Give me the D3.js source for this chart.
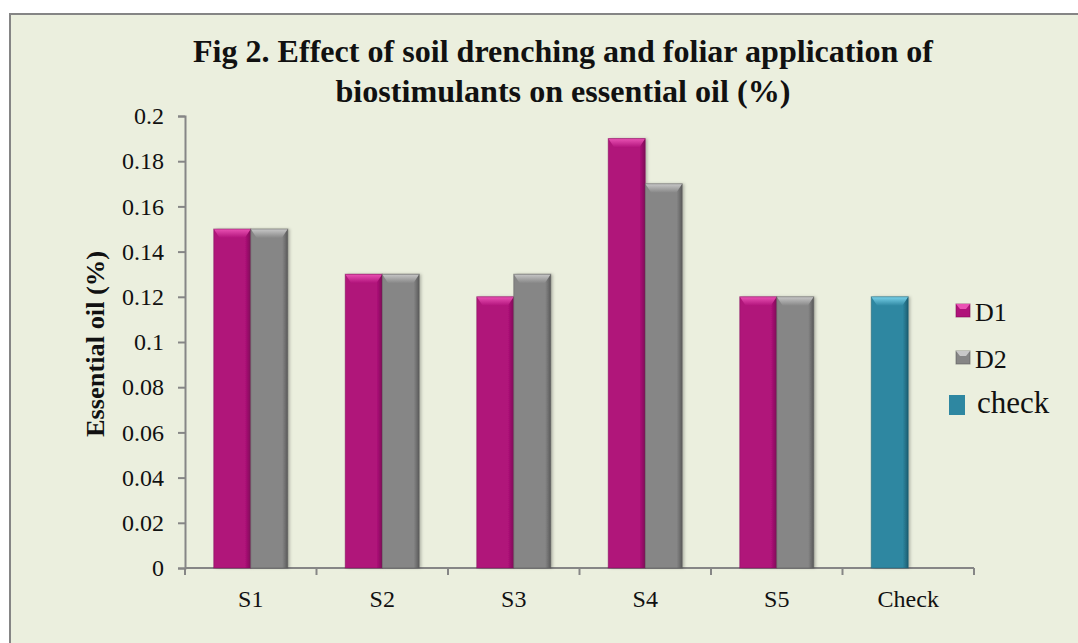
<!DOCTYPE html>
<html>
<head>
<meta charset="utf-8">
<script src="https://cdn.jsdelivr.net/npm/d3@7"></script>
<style>
  body { margin: 0; background: #fff; }
  text { font-family: "Liberation Serif", "Times New Roman", serif; fill: #111; }
</style>
</head>
<body>
<div id="chart"></div>
<script>
// data
const categories = ["S1", "S2", "S3", "S4", "S5", "Check"];
const d1Values = [0.15, 0.13, 0.12, 0.19, 0.12, null];
const d2Values = [0.15, 0.13, 0.13, 0.17, 0.12, null];
const checkValues = [null, null, null, null, null, 0.12];
const yTicks = [0, 0.02, 0.04, 0.06, 0.08, 0.1, 0.12, 0.14, 0.16, 0.18, 0.2];
const titleLines = ["Fig 2. Effect of soil drenching and foliar application of",
                    "biostimulants on essential oil (%)"];

const width = 1078, height = 643;
const margin = { top: 116, right: 104, bottom: 75, left: 185 };

const svg = d3.select("#chart").append("svg")
  .attr("width", width)
  .attr("height", height);

// frame
svg.append("rect")
  .attr("x", 10).attr("y", 14)
  .attr("width", width + 20).attr("height", height)
  .attr("fill", "#ebefde")
  .attr("stroke", "#858585")
  .attr("stroke-width", 2);

// bevel gradients
const defs = svg.append("defs");
const palettes = {
  D1: { main: "#b0127a", light: "#ea52b4", dark: "#7e0b57" },
  D2: { main: "#868686", light: "#c8c8c8", dark: "#5a5a5a" },
  check: { main: "#2e87a1", light: "#7ad2ea", dark: "#1d5d70" }
};
Object.entries(palettes).forEach(([k, p]) => {
  const g = defs.append("linearGradient").attr("id", "top-" + k)
    .attr("x1", 0).attr("y1", 0).attr("x2", 0).attr("y2", 1);
  g.append("stop").attr("offset", "0%").attr("stop-color", p.light);
  g.append("stop").attr("offset", "100%").attr("stop-color", p.main);
  const s = defs.append("linearGradient").attr("id", "side-" + k)
    .attr("x1", 0).attr("y1", 0).attr("x2", 1).attr("y2", 0);
  s.append("stop").attr("offset", "0%").attr("stop-color", p.main);
  s.append("stop").attr("offset", "85%").attr("stop-color", p.main);
  s.append("stop").attr("offset", "100%").attr("stop-color", p.dark);
});
const shadow = defs.append("filter").attr("id", "shadow")
  .attr("x", "-20%").attr("y", "-5%").attr("width", "150%").attr("height", "110%");
shadow.append("feDropShadow").attr("dx", 2).attr("dy", 0).attr("stdDeviation", 1.5)
  .attr("flood-color", "#000").attr("flood-opacity", 0.25);

const x0 = d3.scaleBand()
  .domain(categories)
  .range([margin.left, width - margin.right])
  .padding(0);

const x1 = d3.scaleBand()
  .domain(["D1", "D2"])
  .range([0, x0.bandwidth()])
  .paddingInner(0)
  .paddingOuter(0.777);

const y = d3.scaleLinear()
  .domain([0, 0.2])
  .range([height - margin.bottom, margin.top]);

// title
svg.append("g").selectAll("text")
  .data(titleLines)
  .enter()
  .append("text")
  .attr("x", 563)
  .attr("y", (d, i) => 62 + i * 40)
  .attr("text-anchor", "middle")
  .style("font-size", "32px")
  .style("font-weight", "bold")
  .attr("textLength", (d, i) => i === 0 ? 740 : 455)
  .attr("lengthAdjust", "spacingAndGlyphs")
  .text(d => d);

// y axis
const yAxis = svg.append("g")
  .attr("transform", `translate(${margin.left},0)`)
  .call(d3.axisLeft(y).tickValues(yTicks).tickSize(7).tickPadding(14)
    .tickFormat(d => String(+d.toFixed(2))));
yAxis.selectAll("line, path").attr("stroke", "#868686").attr("stroke-width", 2);
yAxis.selectAll("text")
  .style("font-size", "24px")
  .style("font-family", "'Liberation Serif', serif")
  .attr("fill", "#111");

// x axis
const xAxis = svg.append("g")
  .attr("transform", `translate(0,${y(0)})`)
  .call(d3.axisBottom(x0).tickSize(0).tickPadding(22));
xAxis.select("path").attr("stroke", "#868686").attr("stroke-width", 2).attr("d",
  `M${margin.left},0H${width - margin.right}`);
xAxis.selectAll("text")
  .style("font-size", "24px")
  .style("font-family", "'Liberation Serif', serif")
  .attr("fill", "#111");
xAxis.selectAll(".sep")
  .data(d3.range(categories.length + 1))
  .enter()
  .append("line")
  .attr("class", "sep")
  .attr("x1", i => margin.left + i * x0.step())
  .attr("x2", i => margin.left + i * x0.step())
  .attr("y1", 0).attr("y2", 7)
  .attr("stroke", "#868686").attr("stroke-width", 2);

// y label
svg.append("text")
  .attr("transform", `translate(104,${(margin.top + y(0)) / 2 + 2}) rotate(-90)`)
  .attr("text-anchor", "middle")
  .style("font-size", "25px")
  .style("font-weight", "bold")
  .attr("textLength", 186)
  .attr("lengthAdjust", "spacingAndGlyphs")
  .text("Essential oil (%)");

// bars
function drawBar(g, xPos, w, v, key) {
  const top = y(v), bottom = y(0), h = bottom - top;
  const p = palettes[key];
  const bev = Math.min(9, h);
  g.append("rect")
    .attr("x", xPos).attr("y", top)
    .attr("width", w).attr("height", h)
    .attr("fill", `url(#side-${key})`)
    .attr("filter", "url(#shadow)");
  g.append("polygon")
    .attr("points", [[xPos, top], [xPos + w, top], [xPos + w - 6, top + bev], [xPos + 6, top + bev]].join(" "))
    .attr("fill", `url(#top-${key})`);
  g.append("rect")
    .attr("x", xPos).attr("y", top)
    .attr("width", w).attr("height", h)
    .attr("fill", "none")
    .attr("stroke", p.dark).attr("stroke-opacity", 0.5).attr("stroke-width", 1);
}

const bars = svg.append("g");
categories.forEach((c, i) => {
  const g = bars.append("g");
  if (d1Values[i] != null) drawBar(g, x0(c) + x1("D1"), x1.bandwidth(), d1Values[i], "D1");
  if (d2Values[i] != null) drawBar(g, x0(c) + x1("D2"), x1.bandwidth(), d2Values[i], "D2");
  if (checkValues[i] != null) drawBar(g, x0(c) + x1("D1"), x1.bandwidth(), checkValues[i], "check");
});

// legend
const legend = svg.append("g");
[["D1", 304, "D1"], ["D2", 351, "D2"]].forEach(([label, ly, key]) => {
  const p = palettes[key];
  legend.append("rect")
    .attr("x", 956).attr("y", ly).attr("width", 14).attr("height", 13)
    .attr("fill", p.main).attr("stroke", p.dark).attr("stroke-opacity", 0.6);
  legend.append("polygon")
    .attr("points", [[956, ly], [970, ly], [966, ly + 5], [960, ly + 5]].join(" "))
    .attr("fill", p.light);
  legend.append("text")
    .attr("x", 975).attr("y", ly + 17)
    .style("font-size", "26px")
    .text(label);
});
legend.append("rect")
  .attr("x", 949).attr("y", 395).attr("width", 16).attr("height", 20)
  .attr("fill", palettes.check.main);
legend.append("text")
  .attr("x", 977).attr("y", 413)
  .style("font-size", "31px")
  .text("check");
</script>
</body>
</html>
